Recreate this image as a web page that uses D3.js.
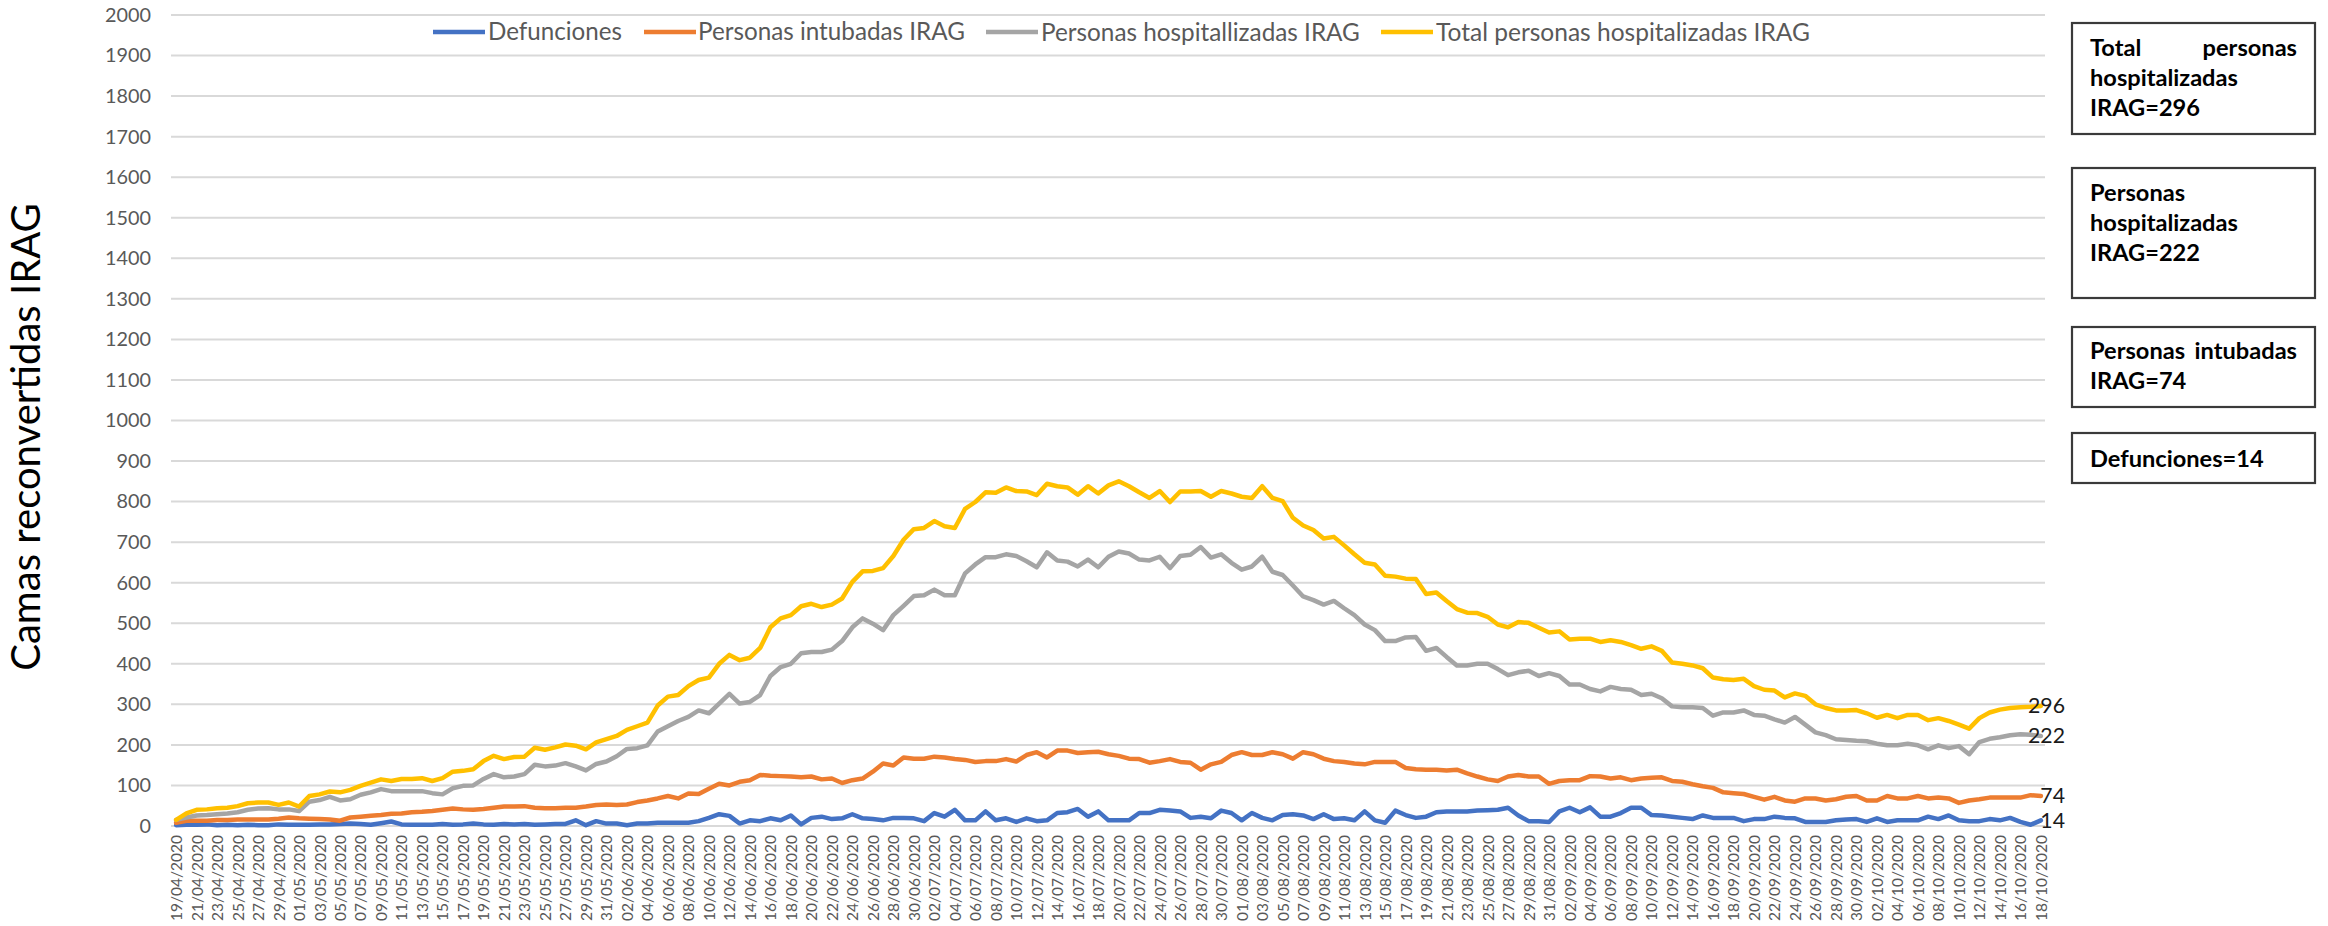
<!DOCTYPE html>
<html><head><meta charset="utf-8">
<script src="https://cdn.jsdelivr.net/npm/d3@7"></script>
<style>body{margin:0;background:#fff} text{font-family:Lato,"Open Sans",sans-serif}</style>
</head><body><svg id="c" width="2328" height="926"></svg>
<script>
// ---------- DATA ----------
const startDate = "2020-04-19";
const endDate = "2020-10-18";
const seriesNames = ["Defunciones", "Personas intubadas IRAG", "Personas hospitallizadas IRAG", "Total personas hospitalizadas IRAG"];
const defunciones = [2,3,3,4,2,3,2,3,2,2,4,3,3,3,4,4,5,6,5,3,7,11,4,3,3,3,5,3,4,6,4,3,5,4,5,3,4,5,5,14,2,12,6,6,
 2,6,6,8,8,8,8,12,20,29,25,6,14,12,19,14,26,4,20,23,17,19,29,19,17,14,20,20,19,12,32,23,40,14,14,36,14,19,10,19,12,14,32,34,42,
 23,36,14,14,14,32,32,40,38,36,20,23,19,38,32,14,32,20,14,27,29,26,17,29,17,19,14,36,14,8,38,27,20,23,34,36,36,36,38,39,40,45,26,12,12,10,
 36,45,34,46,23,23,32,45,45,27,26,23,20,17,26,20,20,20,12,17,17,23,20,19,10,10,10,14,16,17,10,19,10,14,14,14,23,17,26,14,12,12,17,14,20,10,3,14];
const intubadas = [8,13,13,13,15,15,16,16,16,16,18,21,19,18,17,16,13,21,23,25,27,30,31,34,35,37,40,43,41,40,42,45,48,48,49,45,44,44,45,45,48,52,53,52,
 53,59,63,68,74,68,80,79,92,104,100,109,113,126,124,123,122,120,122,115,117,106,113,117,134,154,149,169,166,166,171,169,165,163,158,160,160,165,159,175,182,169,186,186,180,
 182,183,177,173,166,165,156,160,165,158,156,139,152,158,175,182,175,175,182,177,166,182,177,166,160,158,154,152,158,158,158,143,140,139,139,137,139,130,122,115,111,122,126,122,122,104,
 111,113,113,123,122,117,120,113,117,119,120,111,109,103,98,94,83,81,79,72,65,72,63,60,68,68,63,66,72,74,63,63,74,68,68,74,68,70,68,57,63,66,70,70,70,70,76,74];
const hospitalizadas = [15,21,26,27,29,31,34,40,43,44,41,41,37,60,64,72,63,66,77,83,91,86,86,86,86,81,78,93,99,100,116,128,120,122,128,151,147,149,155,147,137,153,159,172,
 190,192,199,233,246,259,269,285,278,302,326,302,306,323,370,392,400,426,429,429,435,456,490,512,499,483,520,543,567,569,583,569,569,623,645,663,663,670,666,653,638,675,655,652,640,
 657,638,664,677,672,657,655,664,636,666,669,688,662,670,649,632,640,664,627,619,593,566,557,546,555,537,520,497,483,456,456,465,466,432,439,417,396,396,400,400,387,372,379,383,370,377,
 370,349,349,338,332,343,338,336,323,326,315,295,293,293,291,272,280,280,285,274,272,263,255,269,250,231,224,214,212,210,209,203,199,199,203,199,189,199,192,197,177,207,215,219,224,226,225,222];
const totalHosp = [15,31,40,41,44,45,49,56,58,58,52,58,48,74,78,85,83,89,99,107,115,111,116,116,118,111,118,134,136,140,160,173,165,170,171,193,188,194,201,198,189,206,214,222,
 237,246,255,297,319,323,345,360,366,400,422,409,415,439,490,512,520,542,548,540,546,561,602,628,629,636,666,706,732,735,752,739,735,782,799,823,822,835,826,825,816,844,838,835,817,
 838,820,840,850,838,823,809,826,799,825,825,826,812,826,820,812,809,838,809,801,760,741,730,709,713,692,670,649,645,617,615,610,609,572,576,555,535,526,525,516,497,490,503,501,489,477,
 480,460,462,462,454,458,454,446,437,443,432,403,400,396,389,366,362,360,363,345,336,334,317,327,321,300,291,285,285,286,278,267,274,266,274,274,261,266,259,250,240,266,280,287,291,293,294,296];
const yTickValues = [0,100,200,300,400,500,600,700,800,900,1000,1100,1200,1300,1400,1500,1600,1700,1800,1900,2000];
const yTitle = "Camas reconvertidas IRAG";
const boxTexts = [
  [["Total","personas"],["hospitalizadas"],["IRAG=296"]],
  [["Personas"],["hospitalizadas"],["IRAG=222"]],
  [["Personas","intubadas"],["IRAG=74"]],
  [["Defunciones=14"]]
];

// ---------- STYLE / LAYOUT ----------
const colors = ["#4472C4", "#ED7D31", "#A5A5A5", "#FFC000"];
const series = [defunciones, intubadas, hospitalizadas, totalHosp];
const L = 171, R = 2046, T = 15, B = 826;

const parse = d3.timeParse("%Y-%m-%d");
const fmt = d3.timeFormat("%d/%m/%Y");
const dates = d3.timeDay.range(parse(startDate), d3.timeDay.offset(parse(endDate), 1)).map(fmt);

const svg = d3.select("#c");
svg.append("rect").attr("width", 2328).attr("height", 926).attr("fill", "#fff");

const x = d3.scalePoint().domain(d3.range(dates.length)).range([L, R]).padding(0.5);
const y = d3.scaleLinear().domain([0, 2000]).range([B, T]);

function fit(sel, target) {
  const base = 20;
  sel.style("font-size", base + "px");
  const w = sel.node().getComputedTextLength();
  const s = base * target / w;
  sel.style("font-size", s + "px");
  return s;
}

// gridlines
svg.append("g").selectAll("line").data(yTickValues).join("line")
  .attr("x1", L).attr("x2", R - 1).attr("y1", d => y(d)).attr("y2", d => y(d))
  .attr("stroke", "#d9d9d9").attr("stroke-width", 2);

// y axis labels
const yAxis = svg.append("g").attr("transform", `translate(${L},0)`)
  .call(d3.axisLeft(y).tickValues(yTickValues).tickSize(0).tickPadding(20).tickFormat(d3.format("d")));
yAxis.select(".domain").remove();
const tmpY = svg.append("text").text("2000");
const ySize = fit(tmpY, 46); tmpY.remove();
yAxis.selectAll("text").style("font-size", ySize + "px").attr("fill", "#595959").style("font-family", "Lato");

// x axis labels
const tmpX = svg.append("text").text("19/04/2020");
const xSize = fit(tmpX, 86); tmpX.remove();
const xAxis = svg.append("g").attr("transform", `translate(0,${B})`)
  .call(d3.axisBottom(x).tickValues(d3.range(0, dates.length, 2)).tickSize(0).tickFormat(i => dates[i]));
xAxis.select(".domain").remove();
xAxis.selectAll("text")
  .attr("transform", "rotate(-90)").attr("x", -9).attr("y", 0).attr("dy", "0.35em")
  .attr("text-anchor", "end").attr("fill", "#595959")
  .style("font-size", xSize + "px").style("font-family", "Lato");

// lines
const line = d3.line().x((d, i) => x(i)).y(d => y(d));
svg.append("g").selectAll("path").data(series).join("path")
  .attr("d", line).attr("fill", "none")
  .attr("stroke", (d, i) => colors[i]).attr("stroke-width", 4.5)
  .attr("stroke-linejoin", "round").attr("stroke-linecap", "round");

// end labels
const tmpE = svg.append("text").text("296").style("font-family", "Lato");
const eSize = fit(tmpE, 37); tmpE.remove();
svg.append("g").selectAll("text").data(series).join("text")
  .attr("x", 2065).attr("y", d => y(d[d.length - 1])).attr("dy", "0.35em")
  .attr("text-anchor", "end").style("font-size", eSize + "px").attr("fill", "#1a1a1a")
  .text(d => d[d.length - 1]);

// legend
const legendPos = [[433, 488, 134], [644, 698, 267], [986, 1041, 319], [1381, 1436, 374]];
const lg = svg.append("g");
seriesNames.forEach((n, i) => {
  const [lx, tx, tw] = legendPos[i];
  lg.append("line").attr("x1", lx).attr("x2", lx + 52).attr("y1", 32).attr("y2", 32)
    .attr("stroke", colors[i]).attr("stroke-width", 4.5);
  const t = lg.append("text").attr("x", tx).attr("y", 32).attr("dy", "0.35em")
    .attr("fill", "#595959").text(n);
  fit(t, tw);
});

// y title
const yt = svg.append("text").attr("transform", "translate(40,437) rotate(-90)")
  .attr("text-anchor", "middle").attr("fill", "#000").text(yTitle);
fit(yt, 468);

// boxes
const boxRects = [[23, 134], [168, 298], [327, 407], [433, 483]];
const boxBaselines = [[56, 86, 116], [201, 231, 261], [359, 389], [467]];
const tmpB = svg.append("text").text("hospitalizadas").style("font-weight", "bold");
const bSize = fit(tmpB, 148); tmpB.remove();
boxRects.forEach(([y0, y1], bi) => {
  svg.append("rect").attr("x", 2072).attr("y", y0).attr("width", 243).attr("height", y1 - y0)
    .attr("fill", "#fff").attr("stroke", "#3a3a3a").attr("stroke-width", 2.2);
  boxTexts[bi].forEach((words, li) => {
    const by = boxBaselines[bi][li];
    svg.append("text").attr("x", 2090).attr("y", by).style("font-weight", "bold")
      .style("font-size", bSize + "px").attr("fill", "#000").text(words[0]);
    if (words.length > 1) {
      svg.append("text").attr("x", 2297).attr("y", by).attr("text-anchor", "end").style("font-weight", "bold")
        .style("font-size", bSize + "px").attr("fill", "#000").text(words[1]);
    }
  });
});
</script></body></html>
